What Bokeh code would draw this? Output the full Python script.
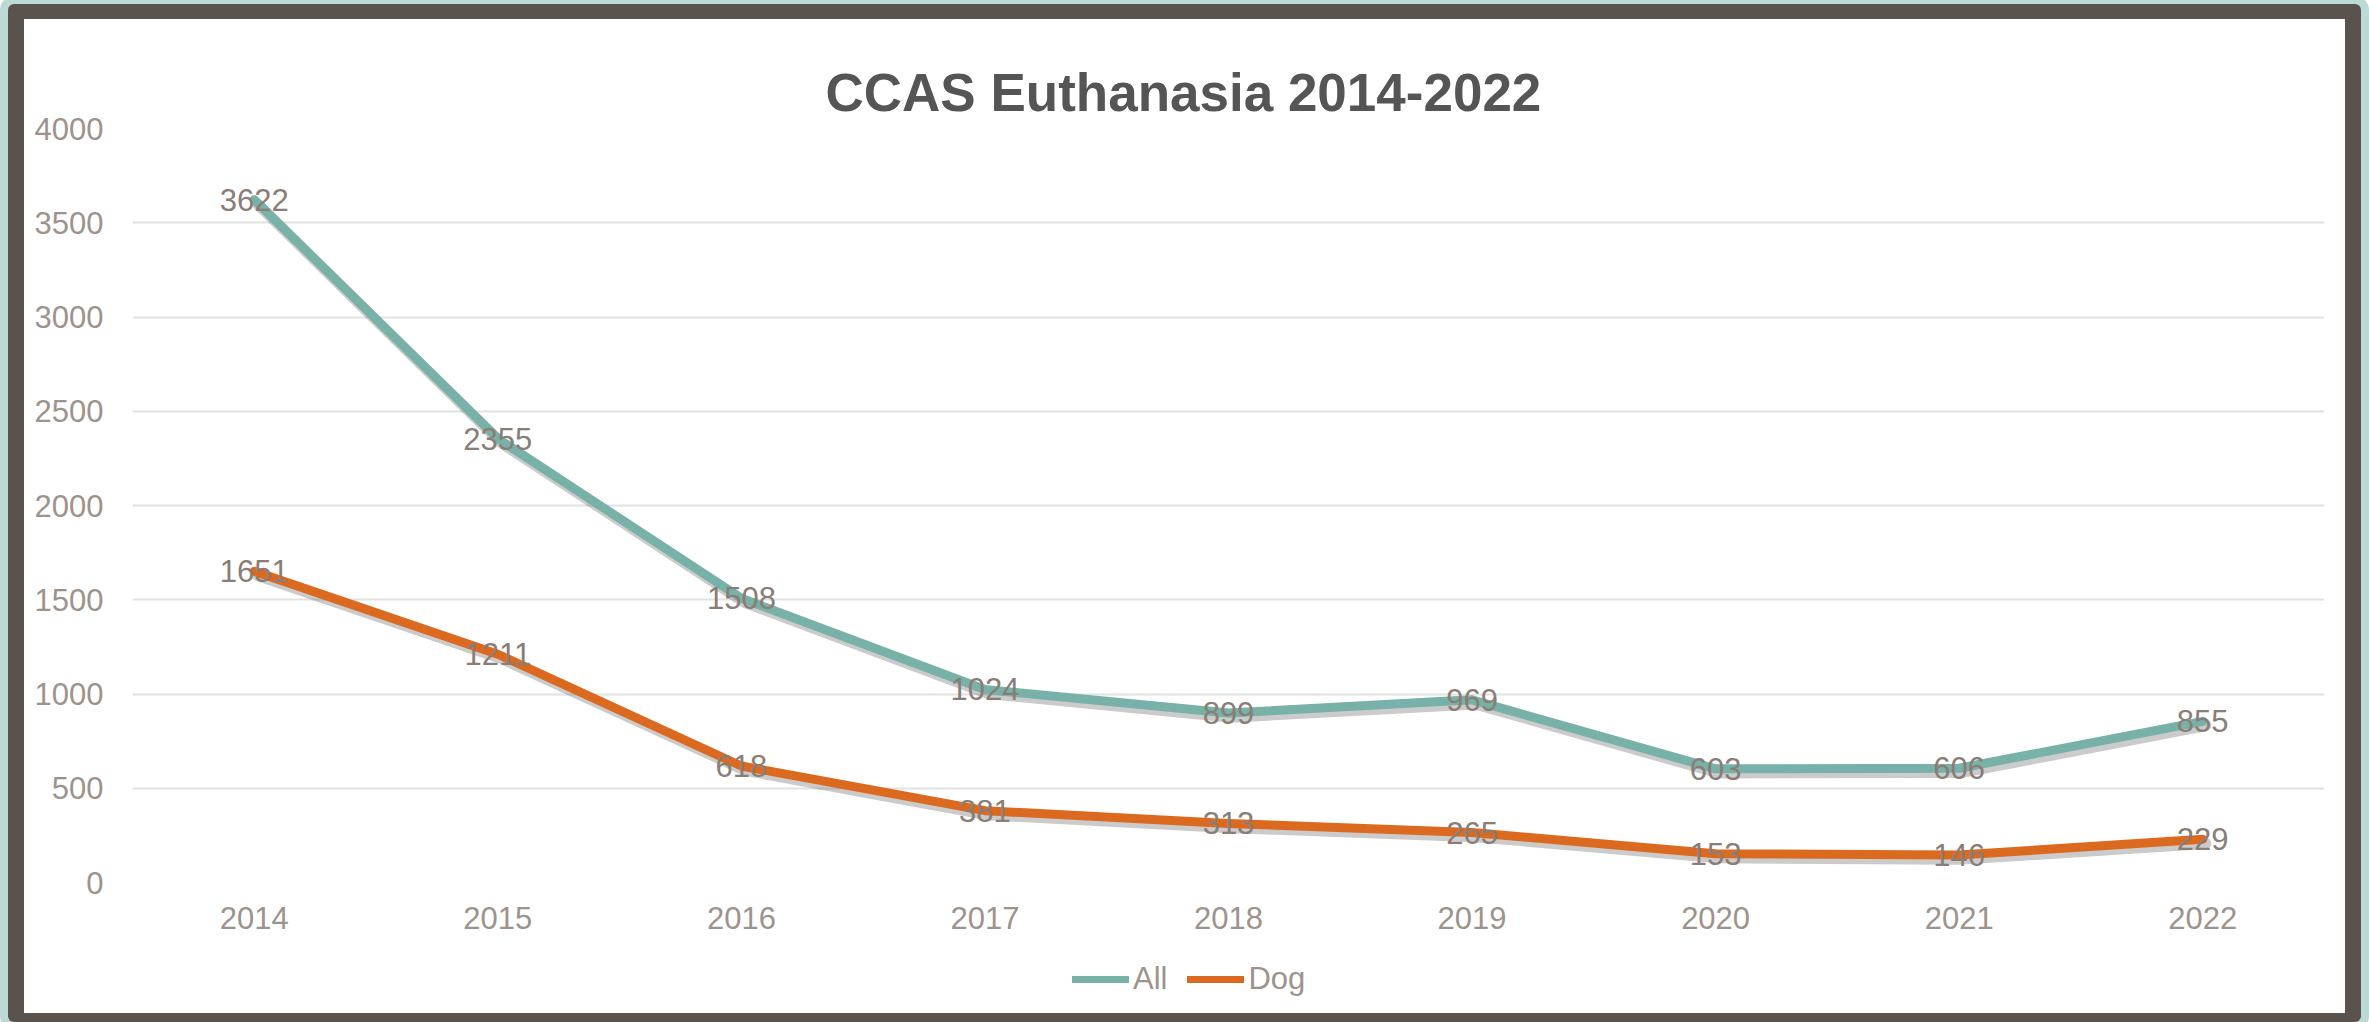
from bokeh.plotting import figure
from bokeh.layouts import column
from bokeh.models import (Range1d, FactorRange, ColumnDataSource, Legend, LegendItem,
                          Title, FixedTicker)
from bokeh.transform import dodge
from bokeh.core.properties import value
from bokeh.embed import file_html
from bokeh.resources import INLINE

# ---- data ----
years = ["2014", "2015", "2016", "2017", "2018", "2019", "2020", "2021", "2022"]
all_vals = [3622, 2355, 1508, 1024, 899, 969, 603, 606, 855]
dog_vals = [1651, 1211, 618, 381, 313, 265, 153, 146, 229]
y_ticks = [0, 500, 1000, 1500, 2000, 2500, 3000, 3500, 4000]
series_names = ["All", "Dog"]
title_text = "CCAS Euthanasia 2014-2022"

# ---- styles ----
FONT = "Liberation Sans"
C_ALL = "#77b1a8"
C_DOG = "#db6a20"
C_TICK = "#9e938c"
C_DLBL = "#8a7d76"
C_TITLE = "#555555"
C_FRAME = "#5a524c"
C_BG = "#bcd9d6"

W = 2321
H_MAIN = 924
H_LEG = 70

p = figure(width=W, height=H_MAIN,
           x_range=FactorRange(factors=years, range_padding=0),
           y_range=Range1d(0, 4000),
           output_backend="svg", toolbar_location=None,
           min_border_left=108, min_border_right=21,
           min_border_top=109, min_border_bottom=61,
           outline_line_color=None)
p.margin = (15, 16, 0, 16)
p.styles = {"background-color": "white"}

# spacer next to the plot area; the visible title is stacked above it
p.title = Title(text=" ", text_font_size="1px", standoff=28, text_alpha=0)
p.add_layout(Title(text=title_text, align="left", offset=693, vertical_align="top",
                   standoff=10, text_font=FONT, text_font_size="53px",
                   text_font_style="bold", text_color=C_TITLE), "above")

p.background_fill_color = "white"
p.border_fill_color = "white"

p.xgrid.grid_line_color = None
p.ygrid.grid_line_color = "#e2e2e2"
p.ygrid.grid_line_width = 2

p.yaxis.ticker = FixedTicker(ticks=y_ticks)
for ax in (p.xaxis, p.yaxis):
    ax.axis_line_color = None
    ax.major_tick_line_color = None
    ax.minor_tick_line_color = None
    ax.major_tick_out = 0
    ax.major_tick_in = 0
    ax.major_label_text_font = FONT
    ax.major_label_text_font_size = "31px"
    ax.major_label_text_color = C_TICK
p.yaxis.major_label_standoff = 29
p.xaxis.major_label_standoff = 24

src_all = ColumnDataSource(dict(x=years, y=all_vals, label=[str(v) for v in all_vals]))
src_dog = ColumnDataSource(dict(x=years, y=dog_vals, label=[str(v) for v in dog_vals]))

for src, col in ((src_all, C_ALL), (src_dog, C_DOG)):
    # soft shadow
    p.line(x=dodge("x", 0.013, range=p.x_range), y=dodge("y", -22, range=p.y_range),
           source=src, line_color="#6a6a6a", line_alpha=0.35, line_width=11,
           line_join="round", line_cap="round")
    p.line("x", "y", source=src, line_color=col, line_width=9,
           line_join="round", line_cap="round")

for src in (src_all, src_dog):
    p.text(x="x", y="y", text="label", source=src,
           text_font=value(FONT), text_font_size="31px", text_color=C_DLBL,
           text_align="center", text_baseline="middle")

# ---- legend strip (a figure holding only the legend) ----
q = figure(width=W, height=H_LEG, x_range=Range1d(0, 1), y_range=Range1d(0, 1),
           output_backend="svg", toolbar_location=None,
           min_border=0, outline_line_color=None)
q.margin = (0, 16, 9, 16)
q.styles = {"background-color": "white"}
q.axis.visible = False
q.grid.visible = False
q.background_fill_color = "white"
q.border_fill_color = "white"
idx = list(range(len(years)))
# same series, far outside this strip's 0..1 range, so only their legend swatches show
leg_all = q.line(x=idx, y=all_vals, line_color=C_ALL, line_width=7, line_cap="round")
leg_dog = q.line(x=idx, y=dog_vals, line_color=C_DOG, line_width=7, line_cap="round")

legend = Legend(items=[LegendItem(label=series_names[0], renderers=[leg_all]),
                       LegendItem(label=series_names[1], renderers=[leg_dog])],
                orientation="horizontal", location=(940, 16),
                padding=0, margin=0, spacing=20,
                glyph_width=57, glyph_height=36, label_height=36, label_standoff=4,
                label_text_font=FONT, label_text_font_size="31px",
                label_text_color=C_TICK, label_text_baseline="middle",
                border_line_color=None, background_fill_alpha=0)
q.add_layout(legend)

root = column(p, q, spacing=0)
root.margin = (4, 8, 0, 8)
root.styles = {
    "background-color": C_FRAME,
    "border-radius": "6px",
    "box-shadow": f"0 0 0 8px {C_BG}",
}

open("out.html", "w").write(file_html(root, INLINE))
